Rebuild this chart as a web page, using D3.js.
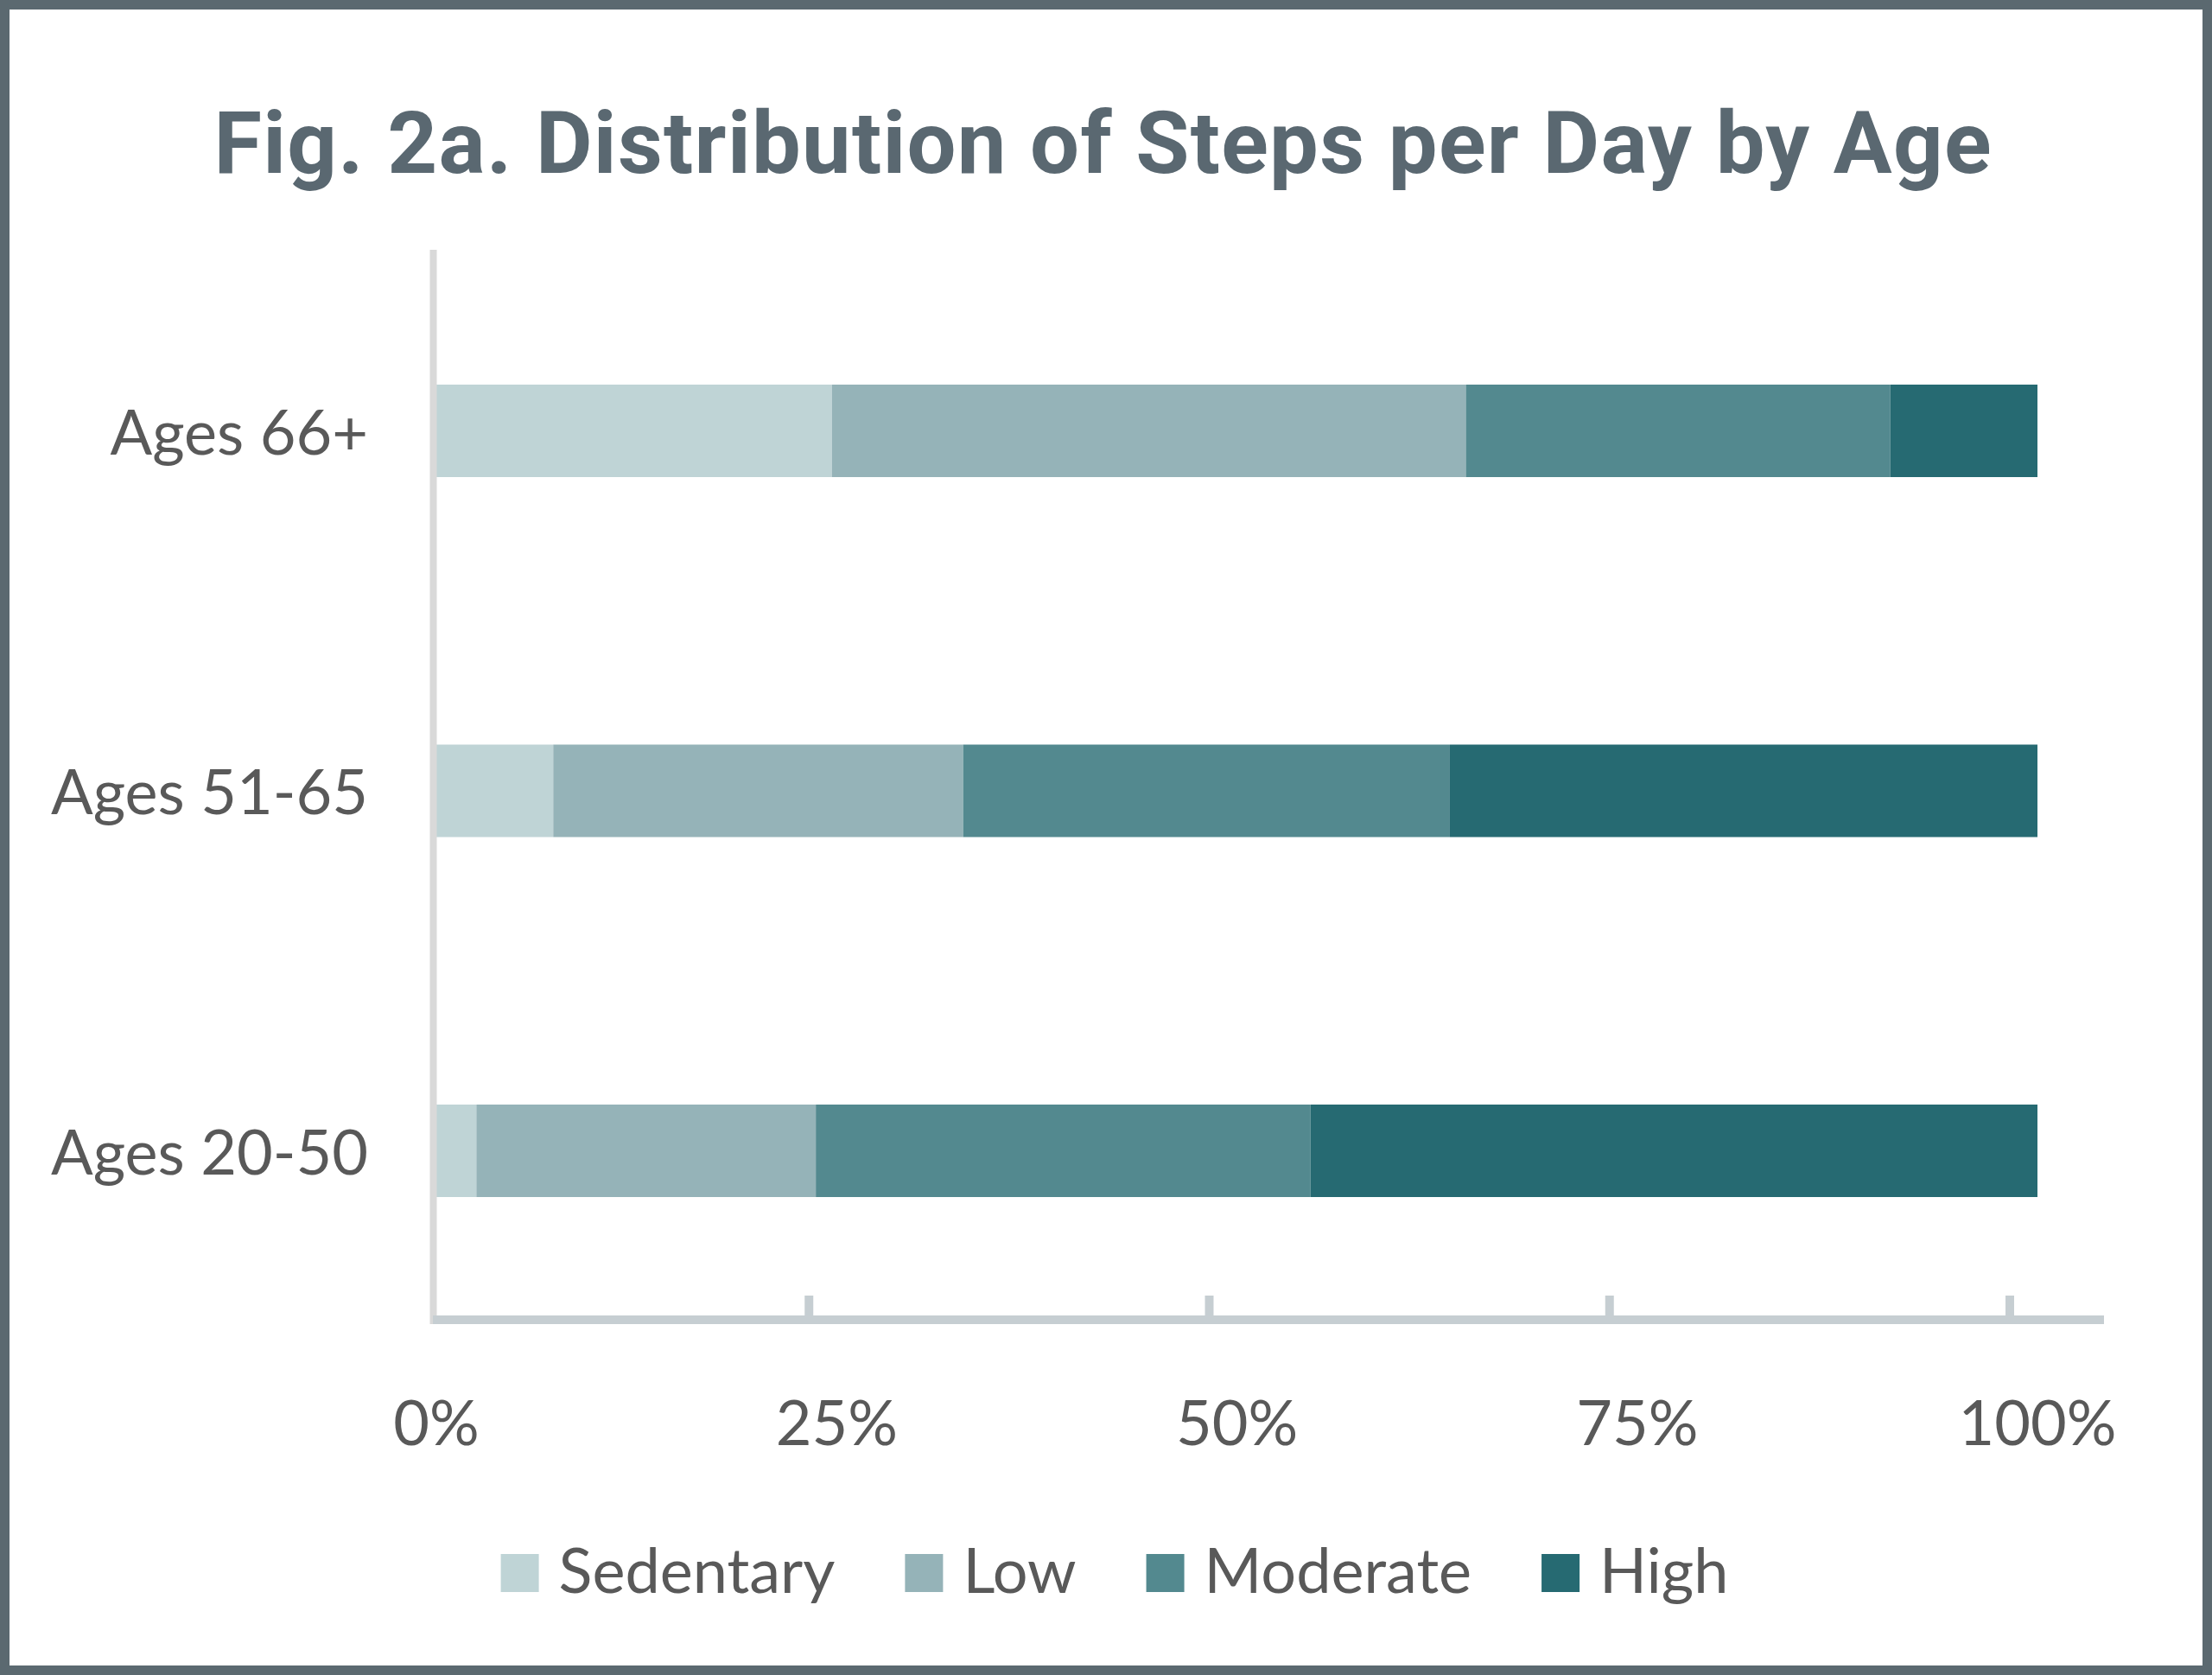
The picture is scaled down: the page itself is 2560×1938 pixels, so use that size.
<!DOCTYPE html>
<html>
<head>
<meta charset="utf-8">
<script src="https://cdn.jsdelivr.net/npm/d3@7"></script>
<style>
  html, body { margin: 0; padding: 0; background: #ffffff; }
  svg { display: block; }
</style>
</head>
<body>
<div id="chart"></div>
<script>
// ---- Data ----
const categories = ["Ages 66+", "Ages 51-65", "Ages 20-50"];
const seriesNames = ["Sedentary", "Low", "Moderate", "High"];
const sedentary = [24.7, 7.3, 2.5];
const low       = [39.6, 25.6, 21.2];
const moderate  = [26.5, 30.4, 30.9];
const high      = [9.2, 36.7, 45.4];
const tickValues = [0, 25, 50, 75, 100];
const tickLabels = ["0%", "25%", "50%", "75%", "100%"];
const colors = ["#bfd4d6", "#95b3b8", "#53898f", "#266a72"];
const titleText = "Fig. 2a. Distribution of Steps per Day by Age";

// ---- Layout ----
const W = 2560, H = 1938;
const textColor = "#595959";
const frameColor = "#5b6970";
const labelFont = "Lato, 'Open Sans', sans-serif";

const svg = d3.select("#chart").append("svg")
  .attr("width", W).attr("height", H);

svg.append("rect").attr("x", 0).attr("y", 0).attr("width", W).attr("height", H).attr("fill", "#fff");

// Title
svg.append("text")
  .attr("x", 1276).attr("y", 200)
  .attr("text-anchor", "middle")
  .attr("font-family", "Roboto, 'Liberation Sans', sans-serif")
  .attr("font-weight", 700)
  .attr("font-size", 101)
  .attr("fill", "#5a6871")
  .attr("textLength", 2057)
  .attr("lengthAdjust", "spacing")
  .text(titleText);

// Scales
const x = d3.scaleLinear().domain([0, 100]).range([505, 2358]);
const y = d3.scalePoint().domain(categories).range([498.5, 1331.5]);
const barH = 107;

// Stack
const rows = categories.map((c, i) => ({
  cat: c, Sedentary: sedentary[i], Low: low[i], Moderate: moderate[i], High: high[i]
}));
const stacked = d3.stack().keys(seriesNames)(rows);

svg.append("g").selectAll("g")
  .data(stacked).join("g")
  .attr("fill", (d, i) => colors[i])
  .selectAll("rect")
  .data(d => d).join("rect")
  .attr("x", d => x(d[0]))
  .attr("width", d => x(d[1]) - x(d[0]))
  .attr("y", d => y(d.data.cat) - barH / 2)
  .attr("height", barH);

// Y axis line
svg.append("line")
  .attr("x1", 501.5).attr("x2", 501.5)
  .attr("y1", 289).attr("y2", 1532)
  .attr("stroke", "#d9d9d9").attr("stroke-width", 8);

// X axis line
const axisY = 1527;
svg.append("line")
  .attr("x1", 501).attr("x2", 2435)
  .attr("y1", axisY).attr("y2", axisY)
  .attr("stroke", "#c6ced2").attr("stroke-width", 10);

// Ticks (drawn slightly left of the label positions, as in the reference)
const tickOffset = -32;
svg.append("g").selectAll("line")
  .data(tickValues.slice(1)).join("line")
  .attr("x1", d => x(d) + tickOffset).attr("x2", d => x(d) + tickOffset)
  .attr("y1", 1499).attr("y2", axisY)
  .attr("stroke", "#c6ced2").attr("stroke-width", 10);

// Tick labels
svg.append("g").selectAll("text")
  .data(tickValues).join("text")
  .attr("x", d => x(d))
  .attr("y", 1672)
  .attr("text-anchor", "middle")
  .attr("font-family", labelFont)
  .attr("font-size", 72)
  .attr("fill", textColor)
  .text((d, i) => tickLabels[i]);

// Category labels
svg.append("g").selectAll("text")
  .data(categories).join("text")
  .attr("x", 426)
  .attr("y", d => y(d) + 27)
  .attr("text-anchor", "end")
  .attr("font-family", labelFont)
  .attr("font-size", 72)
  .attr("fill", textColor)
  .text(d => d);

// Legend
const legend = svg.append("g");
const sq = 44, gapSq = 23, gapItem = 81;
const items = legend.selectAll("g").data(seriesNames).join("g");
items.append("rect")
  .attr("width", sq).attr("height", sq)
  .attr("y", 1798)
  .attr("fill", (d, i) => colors[i]);
items.append("text")
  .attr("x", sq + gapSq)
  .attr("y", 1843)
  .attr("font-family", labelFont)
  .attr("font-size", 72)
  .attr("fill", textColor)
  .text(d => d);
let widths = [];
items.each(function() { widths.push(this.querySelector("text").getComputedTextLength()); });
const total = d3.sum(widths.map(w => sq + gapSq + w)) + gapItem * (seriesNames.length - 1);
let cx = 1290 - total / 2;
items.each(function(d, i) {
  d3.select(this).attr("transform", `translate(${cx},0)`);
  cx += sq + gapSq + widths[i] + gapItem;
});

// Frame
svg.append("rect")
  .attr("x", 5.5).attr("y", 5.5)
  .attr("width", W - 11).attr("height", H - 11)
  .attr("fill", "none")
  .attr("stroke", frameColor).attr("stroke-width", 11);
</script>
</body>
</html>
